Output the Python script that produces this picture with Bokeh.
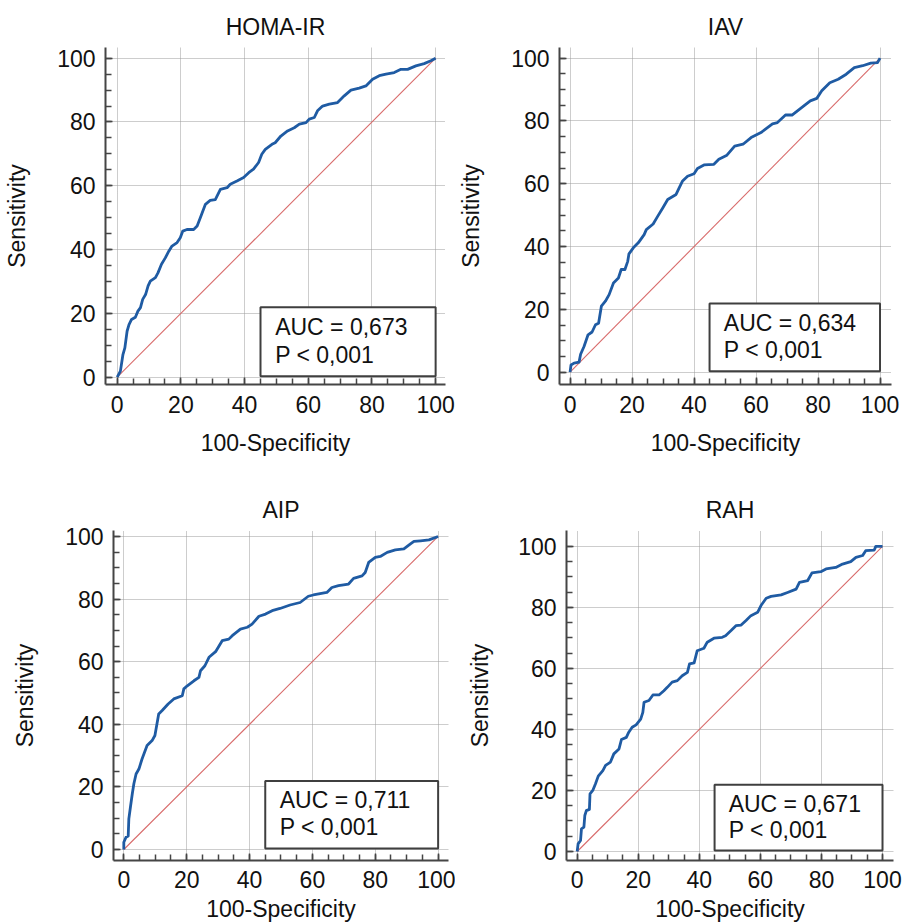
from bokeh.plotting import figure
from bokeh.layouts import column, row
from bokeh.models import Range1d, FixedTicker, BoxAnnotation, Label
from bokeh.embed import file_html
from bokeh.resources import INLINE

# ---------------- data ----------------
titles = ["HOMA-IR", "IAV", "AIP", "RAH"]
auc_texts = ["AUC = 0,673", "AUC = 0,634", "AUC = 0,711", "AUC = 0,671"]
p_text = "P < 0,001"
x_label = "100-Specificity"
y_label = "Sensitivity"

major_ticks = [0, 20, 40, 60, 80, 100]
minor_ticks = [0, 5, 10, 15, 20, 25, 30, 35, 40, 45, 50, 55, 60, 65, 70, 75, 80, 85, 90, 95, 100]

diag_x = [0, 100]
diag_y = [0, 100]

homa_x = [0, 1.0, 1.8, 2.4, 3.1, 3.7, 4.5, 5.7, 6.5, 7.3, 8.0, 8.9, 9.7, 10.4, 12.0, 12.8, 13.9, 15.1, 16.2, 17.2,
          18.8, 19.8, 20.6, 21.9, 24.0, 25.1, 26.1, 27.7, 29.2, 30.8, 32.4, 34.5, 35.5, 37.6, 39.7, 41.3, 42.8, 44.4,
          45.4, 46.5, 48.6, 49.6, 51.4, 53.5, 55.6, 57.2, 59.3, 60.3, 61.9, 62.9, 64.5, 66.6, 69.2, 71.3, 73.4, 76.0,
          78.1, 80.2, 82.3, 84.4, 87.0, 89.1, 91.2, 93.8, 96.4, 98.5, 100]
homa_y = [0, 1.9, 7.1, 9.2, 14.4, 16.5, 18.1, 18.8, 20.7, 21.8, 24.4, 25.9, 28.6, 30.1, 31.2, 32.7, 35.4, 37.4, 39.5,
          41.1, 42.2, 43.7, 45.8, 46.3, 46.3, 47.4, 50.0, 54.2, 55.4, 55.7, 58.9, 59.4, 60.5, 61.5, 62.6, 64.1, 65.2,
          67.3, 69.9, 71.4, 73.0, 73.5, 75.6, 77.2, 78.2, 79.3, 79.8, 80.9, 81.4, 83.5, 85.0, 85.6, 86.1, 88.2, 90.0,
          90.6, 91.3, 93.4, 94.5, 95.0, 95.5, 96.5, 96.5, 97.6, 98.3, 99.2, 100]

iav_x = [0, 0.3, 1.3, 2.9, 3.4, 4.5, 5.8, 7.1, 8.2, 9.2, 10.1, 11.4, 12.6, 14.0, 15.6, 16.5, 17.7, 18.6, 19.0, 20.4,
         22.0, 23.9, 24.6, 26.8, 28.3, 29.9, 31.5, 34.2, 35.2, 36.3, 37.9, 40.0, 41.1, 43.2, 46.4, 48.0, 50.6, 53.1,
         55.8, 58.4, 61.6, 65.3, 66.9, 69.5, 71.6, 74.8, 77.5, 79.6, 81.2, 83.8, 86.5, 89.1, 91.7, 94.4, 97.0, 99.2, 100]
iav_y = [0, 2.3, 2.9, 3.2, 5.7, 8.2, 11.9, 12.8, 15.1, 15.6, 21.0, 22.6, 24.7, 28.4, 30.0, 32.7, 32.7, 35.3, 37.7, 39.6,
         41.2, 43.8, 45.4, 47.2, 49.7, 52.3, 55.0, 56.6, 58.7, 60.9, 62.4, 63.2, 64.9, 66.0, 66.2, 67.8, 69.1, 72.0,
         72.6, 74.7, 76.3, 79.1, 79.5, 81.9, 81.9, 84.3, 86.4, 87.2, 89.6, 92.2, 93.3, 94.9, 97.0, 97.6, 98.4, 98.6, 100]

aip_x = [0, 0, 0.7, 1.4, 1.6, 2.1, 2.7, 3.2, 3.9, 4.8, 5.8, 7.4, 9.0, 9.9, 11.1, 12.2, 14.1, 15.9, 18.6, 19.1,
         20.2, 22.3, 23.9, 24.4, 25.8, 27.1, 29.2, 31.3, 33.4, 34.5, 37.1, 39.3, 40.8, 43.0, 45.1, 47.2, 49.7, 52.9,
         56.1, 58.7, 60.3, 64.6, 66.2, 68.3, 71.5, 73.1, 75.8, 76.8, 77.9, 80.0, 81.6, 83.8, 86.4, 89.1, 91.2, 92.3,
         94.4, 97.1, 100]
aip_y = [0, 2.3, 3.9, 4.3, 9.8, 13.5, 17.8, 21.0, 24.1, 25.7, 28.9, 33.2, 34.8, 36.4, 43.3, 44.4, 46.5, 48.1, 49.1,
         51.3, 52.3, 53.9, 55.0, 57.1, 58.7, 61.4, 63.2, 66.7, 67.2, 68.3, 70.4, 71.0, 72.0, 74.5, 75.2, 76.3, 77.0,
         78.1, 78.9, 80.9, 81.3, 82.1, 83.7, 84.3, 84.8, 86.6, 87.4, 88.5, 91.7, 93.3, 93.6, 94.9, 95.7, 96.0, 97.6,
         98.4, 98.6, 98.9, 100]

rah_x = [0, 0.3, 1.1, 1.4, 2.2, 2.5, 3.0, 4.0, 4.2, 5.1, 6.0, 6.9, 8.4, 9.3, 10.9, 12.0, 13.7, 14.5, 16.1, 16.9,
         18.0, 19.3, 20.8, 21.5, 21.9, 23.5, 24.8, 26.8, 28.4, 29.5, 31.1, 32.8, 34.4, 36.1, 36.8, 38.3, 39.3, 41.5,
         42.6, 44.8, 47.5, 48.6, 50.4, 52.0, 53.7, 55.3, 56.9, 59.1, 60.2, 61.9, 63.5, 66.8, 68.9, 71.7, 72.8, 75.5,
         76.9, 79.8, 81.5, 84.7, 86.9, 89.6, 91.3, 93.5, 94.5, 97.3, 97.8, 100]
rah_y = [0, 2.5, 3.6, 7.4, 8.0, 11.8, 13.4, 13.8, 18.9, 20.0, 22.2, 24.7, 26.5, 28.2, 29.3, 32.0, 33.6, 36.7, 37.4,
         39.1, 40.7, 41.5, 43.4, 45.6, 48.9, 49.5, 51.3, 51.3, 52.7, 53.8, 55.5, 56.0, 57.6, 58.7, 61.5, 61.8, 65.8,
         66.6, 68.6, 69.9, 70.2, 70.7, 72.4, 74.0, 74.2, 75.7, 77.3, 78.4, 80.6, 83.0, 83.6, 84.1, 84.9, 86.0, 88.2,
         88.8, 91.3, 91.7, 92.6, 93.1, 94.2, 95.0, 96.4, 97.0, 98.6, 98.8, 100, 100]

curves_x = [homa_x, iav_x, aip_x, rah_x]
curves_y = [homa_y, iav_y, aip_y, rah_y]

# ---------------- style ----------------
FONT = "Liberation Sans"
FS = "23px"
BLUE = "#1f5ba3"
AXIS = "#454545"
TXT = "#111111"


def make_panel(i, width, height, xr, yr, bl, br, bt, bb, ylab_standoff, xtick_standoff, xlab_standoff):
    p = figure(width=width, height=height, output_backend="svg", toolbar_location=None,
               x_range=Range1d(*xr), y_range=Range1d(*yr),
               min_border_left=bl, min_border_right=br, min_border_top=bt, min_border_bottom=bb,
               title=titles[i])
    p.outline_line_color = None
    p.title.align = "center"
    p.title.text_font = FONT
    p.title.text_font_size = FS
    p.title.text_font_style = "normal"
    p.title.text_color = TXT
    p.title.standoff = 15

    for ax in (p.xaxis[0], p.yaxis[0]):
        ax.ticker = FixedTicker(ticks=major_ticks, minor_ticks=minor_ticks)
        ax.axis_line_color = AXIS
        ax.axis_line_width = 2
        ax.major_tick_line_color = AXIS
        ax.minor_tick_line_color = AXIS
        ax.major_tick_line_width = 1.5
        ax.minor_tick_line_width = 1.5
        ax.major_tick_in = 7
        ax.major_tick_out = 0
        ax.minor_tick_in = 6
        ax.minor_tick_out = 0
        ax.major_label_text_font = FONT
        ax.major_label_text_font_size = FS
        ax.major_label_text_color = TXT
        ax.axis_label_text_font = FONT
        ax.axis_label_text_font_size = FS
        ax.axis_label_text_font_style = "normal"
        ax.axis_label_text_color = TXT

    p.xaxis.axis_label = x_label
    p.yaxis.axis_label = y_label
    p.yaxis.major_label_standoff = 10
    p.yaxis.axis_label_standoff = ylab_standoff
    p.xaxis.major_label_standoff = xtick_standoff
    p.xaxis.axis_label_standoff = xlab_standoff

    p.grid.grid_line_color = "#9a9a9a"
    p.grid.grid_line_dash = "1 1"
    p.grid.grid_line_width = 1

    p.line(diag_x, diag_y, line_color="#d86a6a", line_width=1.1)
    p.line(curves_x[i], curves_y[i], line_color=BLUE, line_width=2.8, line_join="round")

    box = BoxAnnotation(left=45, right=100, bottom=0.3, top=21.9,
                        fill_color="white", fill_alpha=1.0,
                        line_color="#3f3f3f", line_width=2, line_alpha=1.0)
    p.add_layout(box)
    p.add_layout(Label(x=49.6, y=15.7, text=auc_texts[i], text_font=FONT, text_font_size=FS,
                       text_baseline="middle", text_color=TXT))
    p.add_layout(Label(x=49.6, y=7.1, text=p_text, text_font=FONT, text_font_size=FS,
                       text_baseline="middle", text_color=TXT))
    return p


p1 = make_panel(0, 455, 460, (-3.68, 103.1), (-2.29, 103.35), 105, 10, 47, 76, 24, 11, 14)
p2 = make_panel(1, 447, 460, (-3.41, 103.7), (-3.92, 103.4), 100, 11, 47, 76, 24, 11, 14)
p3 = make_panel(2, 455, 464, (-3.28, 103.3), (-3.51, 101.9), 113, 7, 70, 64, 24, 10, 5)
p4 = make_panel(3, 447, 464, (-3.5, 103.6), (-2.95, 105.2), 111, 9, 70, 64, 22, 10, 5)

layout = column(row(p1, p2), row(p3, p4))

open("out.html", "w").write(file_html(layout, INLINE))
